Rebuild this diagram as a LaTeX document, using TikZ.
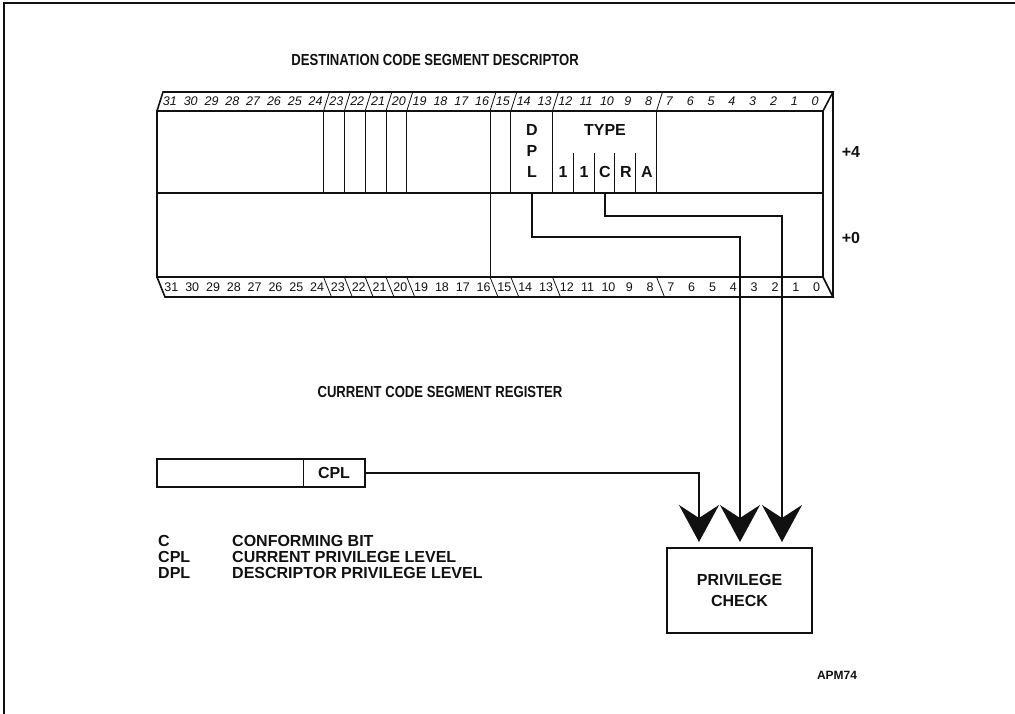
\documentclass[tikz,border=0pt]{standalone}
\usepackage{fontspec}
\setmainfont{Liberation Sans}
\newfontfamily\condfont[FakeStretch=0.82]{Liberation Sans}
\usetikzlibrary{arrows.meta, positioning, calc}
\definecolor{ink}{HTML}{111111}

\begin{document}
\begin{tikzpicture}[x=1pt, y=-1pt,
  >={Stealth[length=37pt, width=40pt, inset=13pt]},
  heading/.style={font=\condfont\fontsize{16}{18}\selectfont\bfseries, text=ink},
  field/.style={font=\fontsize{16}{21}\selectfont\bfseries, text=ink, inner sep=0pt, align=center},
  topnum/.style={font=\fontsize{12.5}{13}\selectfont\itshape, text=ink, inner sep=0pt},
  botnum/.style={font=\fontsize{12.5}{13}\selectfont, text=ink, inner sep=0pt},
  outline/.style={draw=ink, line width=1.6pt},
  thin/.style={draw=ink, line width=0.8pt},
  conn/.style={draw=ink, line width=1.6pt},
]
\useasboundingbox (0,0) rectangle (1015,714);

% Frame
\draw[ink, line width=2pt] (4,714) -- (4,3) -- (1015,3);

% Title
\node[heading] (title) at (435,60) {DESTINATION CODE SEGMENT DESCRIPTOR};

% =============================================
% Descriptor: two dwords with bit strips
% =============================================
\def\bw{20.8125}

% body, top strip, bottom strip, side face
\draw[outline] (157,111) rectangle (823,277);
\draw[outline] (157,193) -- (823,193);
\draw[outline] (157,111) -- (163,92) -- (833,92) -- (823,111);
\draw[outline] (157,277) -- (165,297) -- (833,297) -- (823,277);
\draw[outline] (833,92) -- (833,297);

% field boundaries (counted in bits from the left)
\foreach \n in {8,9,10,11,12,16,17,19,24} {
  \pgfmathsetmacro{\x}{157 + \n*\bw}
  \draw[thin] (\x,111) -- (\x+6,92);
  \draw[thin] (\x,277) -- (\x+8,297);
  \draw[thin] (\x,111) -- (\x,193);
}
\draw[thin] ({157+16*\bw},193) -- ({157+16*\bw},277);

% type sub-fields
\foreach \n in {20,21,22,23} {
  \pgfmathsetmacro{\x}{157 + \n*\bw}
  \draw[thin] (\x,153) -- (\x,193);
}

% bit numbers
\foreach \b in {0,...,31} {
  \pgfmathsetmacro{\xc}{157 + (31-\b+0.5)*\bw}
  \node[topnum] (t\b) at (\xc+2.5,101.5) {\b};
  \node[botnum] (u\b) at (\xc+4,287.5) {\b};
}

% fields of the upper dword
\node[field] (dpl) at (532,151) {D\\P\\L};
\node[field] (type) at (605,130) {TYPE};
\node[field] (f12) at (563,172) {1};
\node[field] (f11) at (584,172) {1};
\node[field] (cbit) at (605,172) {C};
\node[field] (f9) at (626,172) {R};
\node[field] (f8) at (647,172) {A};

\node[field] (off4) at (851,152) {+4};
\node[field] (off0) at (851,238) {+0};

% =============================================
% Current code segment register
% =============================================
\node[heading] (regtitle) at (440,392) {CURRENT CODE SEGMENT REGISTER};

\node[outline, minimum width=208pt, minimum height=28pt, inner sep=0pt] (reg) at (261,473) {};
\draw[thin] (303,459) -- (303,487);
\node[field] (cpl) at (334,473) {CPL};

% =============================================
% Privilege check
% =============================================
\node[outline, field, minimum width=145pt, minimum height=85pt] (chk) at (739.5,590.5) {PRIVILEGE\\CHECK};

\coordinate (dplfoot) at (532,193);
\coordinate (cfoot) at (605,193);
\coordinate (in1) at (699,542);
\coordinate (in2) at (740,542);
\coordinate (in3) at (782,542);

\draw[conn, ->] (reg.east) -| (in1);
\draw[conn, ->] (dplfoot) -- ++(0,44) -| (in2);
\draw[conn, ->] (cfoot) -- ++(0,23) -| (in3);

% Legend
\node[field, anchor=west] (kc) at (158,541) {C};
\node[field, anchor=west] (kcpl) at (158,557) {CPL};
\node[field, anchor=west] (kdpl) at (158,573) {DPL};
\node[field, anchor=west] (vc) at (232,541) {CONFORMING BIT};
\node[field, anchor=west] (vcpl) at (232,557) {CURRENT PRIVILEGE LEVEL};
\node[field, anchor=west] (vdpl) at (232,573) {DESCRIPTOR PRIVILEGE LEVEL};

\node[font=\fontsize{12}{14}\selectfont\bfseries, text=ink] (fig) at (837,675) {APM74};

\end{tikzpicture}
\end{document}
